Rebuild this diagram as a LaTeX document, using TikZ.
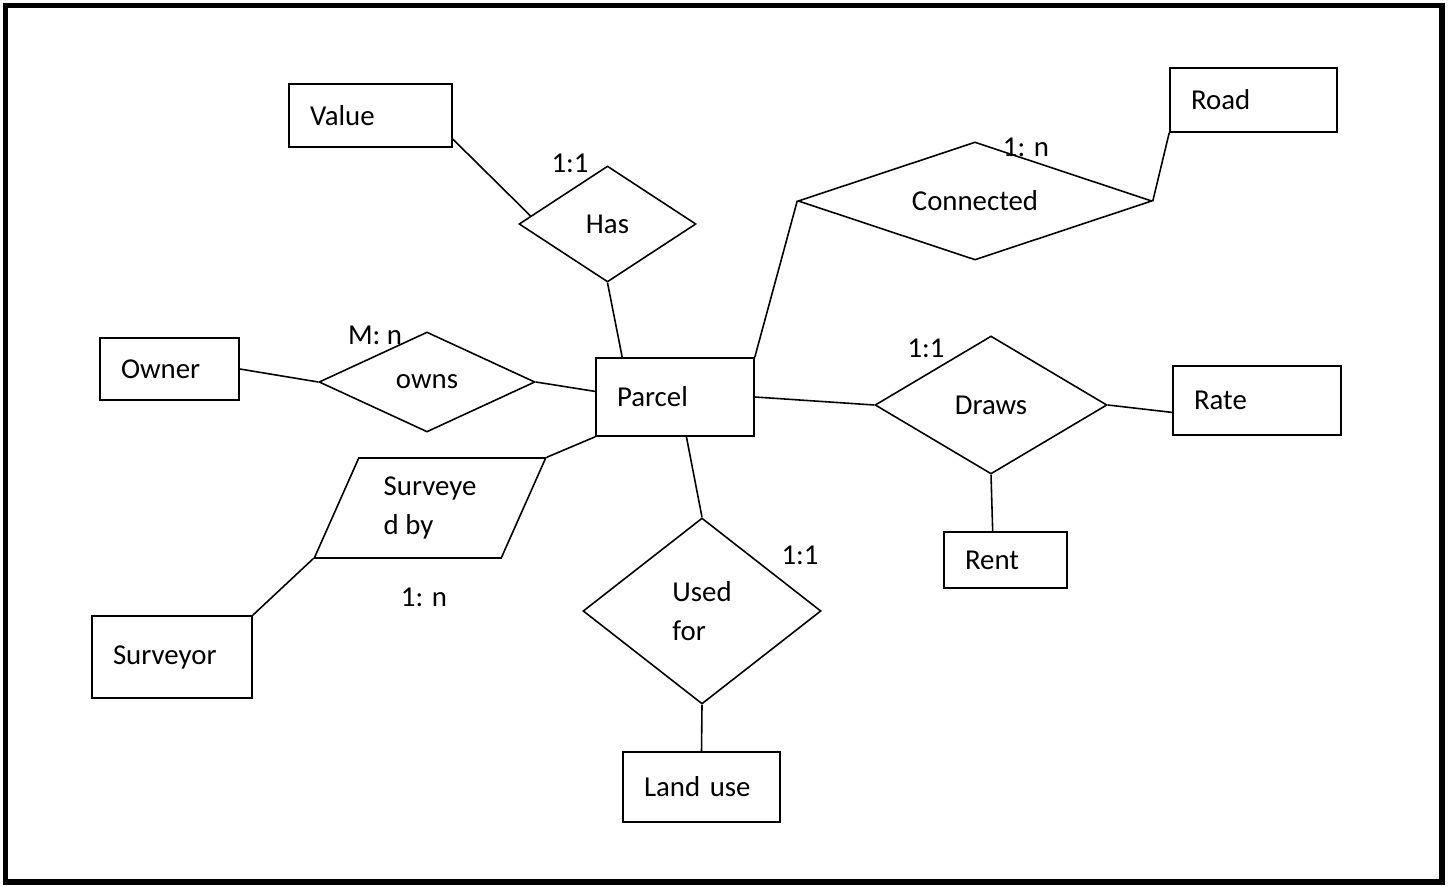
\documentclass[tikz,border=0pt]{standalone}
\usepackage{fontspec}
\setmainfont{Carlito}
\usetikzlibrary{shapes.geometric}
\begin{document}
\begin{tikzpicture}[font=\fontsize{8.2}{11}\selectfont, line width=0.45pt,
    entity/.style={draw, align=left, inner xsep=0.21cm, inner ysep=0pt},
    relation/.style={draw, diamond, inner sep=0pt},
    card/.style={inner sep=1pt}]
  \useasboundingbox (0,0) rectangle (14.5,8.86);
  \draw[line width=1.5pt] (0.055,0.04) rectangle (14.42,8.805);
  \node (value) [entity, text width=1.21cm, minimum height=0.63cm] at (3.705,7.705) {Value};
  \node (road) [entity, text width=1.25cm, minimum height=0.64cm] at (12.535,7.86) {Road};
  \node (owner) [entity, text width=0.97cm, minimum height=0.62cm] at (1.695,5.17) {Owner};
  \node (parcel) [entity, text width=1.16cm, minimum height=0.78cm] at (6.75,4.89) {Parcel};
  \node (surveyor) [entity, text width=1.18cm, minimum height=0.82cm] at (1.72,2.29) {Surveyor};
  \node (landuse) [entity, text width=1.15cm, minimum height=0.70cm] at (7.015,0.99) {Land use};
  \node (rate) [entity, text width=1.26cm, minimum height=0.69cm] at (12.57,4.855) {Rate};
  \node (rent) [entity, text width=0.81cm, minimum height=0.56cm] at (10.055,3.26) {Rent};
  \node (has) [relation, aspect=1.5, minimum width=1.77cm, minimum height=1.16cm] at (6.075,6.62) {Has};
  \node (connected) [relation, aspect=3, minimum width=3.54cm, minimum height=1.18cm] at (9.75,6.85) {Connected};
  \node (owns) [relation, aspect=2.16, minimum width=2.16cm, minimum height=1cm] at (4.27,5.04) {owns};
  \node (usedfor) [relation, aspect=1.28, minimum width=2.38cm, minimum height=1.86cm, align=left] at (7.02,2.75) {Used\\for};
  \node (draws) [relation, aspect=1.7, minimum width=2.32cm, minimum height=1.38cm] at (9.91,4.81) {Draws};
  \node (surv) [draw, trapezium, trapezium left angle=65, trapezium right angle=115, trapezium stretches,
    minimum width=2.32cm, minimum height=1cm, inner sep=0pt, align=left] at (4.30,3.78) {Surveye\\d by};
  \node (hascard) [card] at (5.70,7.23) {1:1};
  \node (conncard) [card] at (10.26,7.39) {1: n};
  \node (ownscard) [card] at (3.75,5.51) {M: n};
  \node (survcard) [card] at (4.24,2.89) {1: n};
  \node (usedcard) [card] at (8.00,3.31) {1:1};
  \node (drawscard) [card] at (9.26,5.38) {1:1};
  \draw (value.344) -- (has.174);
  \draw (has.south) -- (parcel.143);
  \draw (connected.west) -- (parcel.north east);
  \draw (road.south west) -- (connected.east);
  \draw (owner.east) -- (owns.west);
  \draw (owns.east) -- (parcel.176);
  \draw (parcel.south west) -- (surv.top right corner);
  \draw (surv.bottom left corner) -- (surveyor.north east);
  \draw (parcel.286) -- (usedfor.north);
  \draw (usedfor.south) -- (landuse.north);
  \draw (parcel.east) -- (draws.west);
  \draw (draws.east) -- (rate.188);
  \draw (draws.south) -- (rent.114);
\end{tikzpicture}
\end{document}
